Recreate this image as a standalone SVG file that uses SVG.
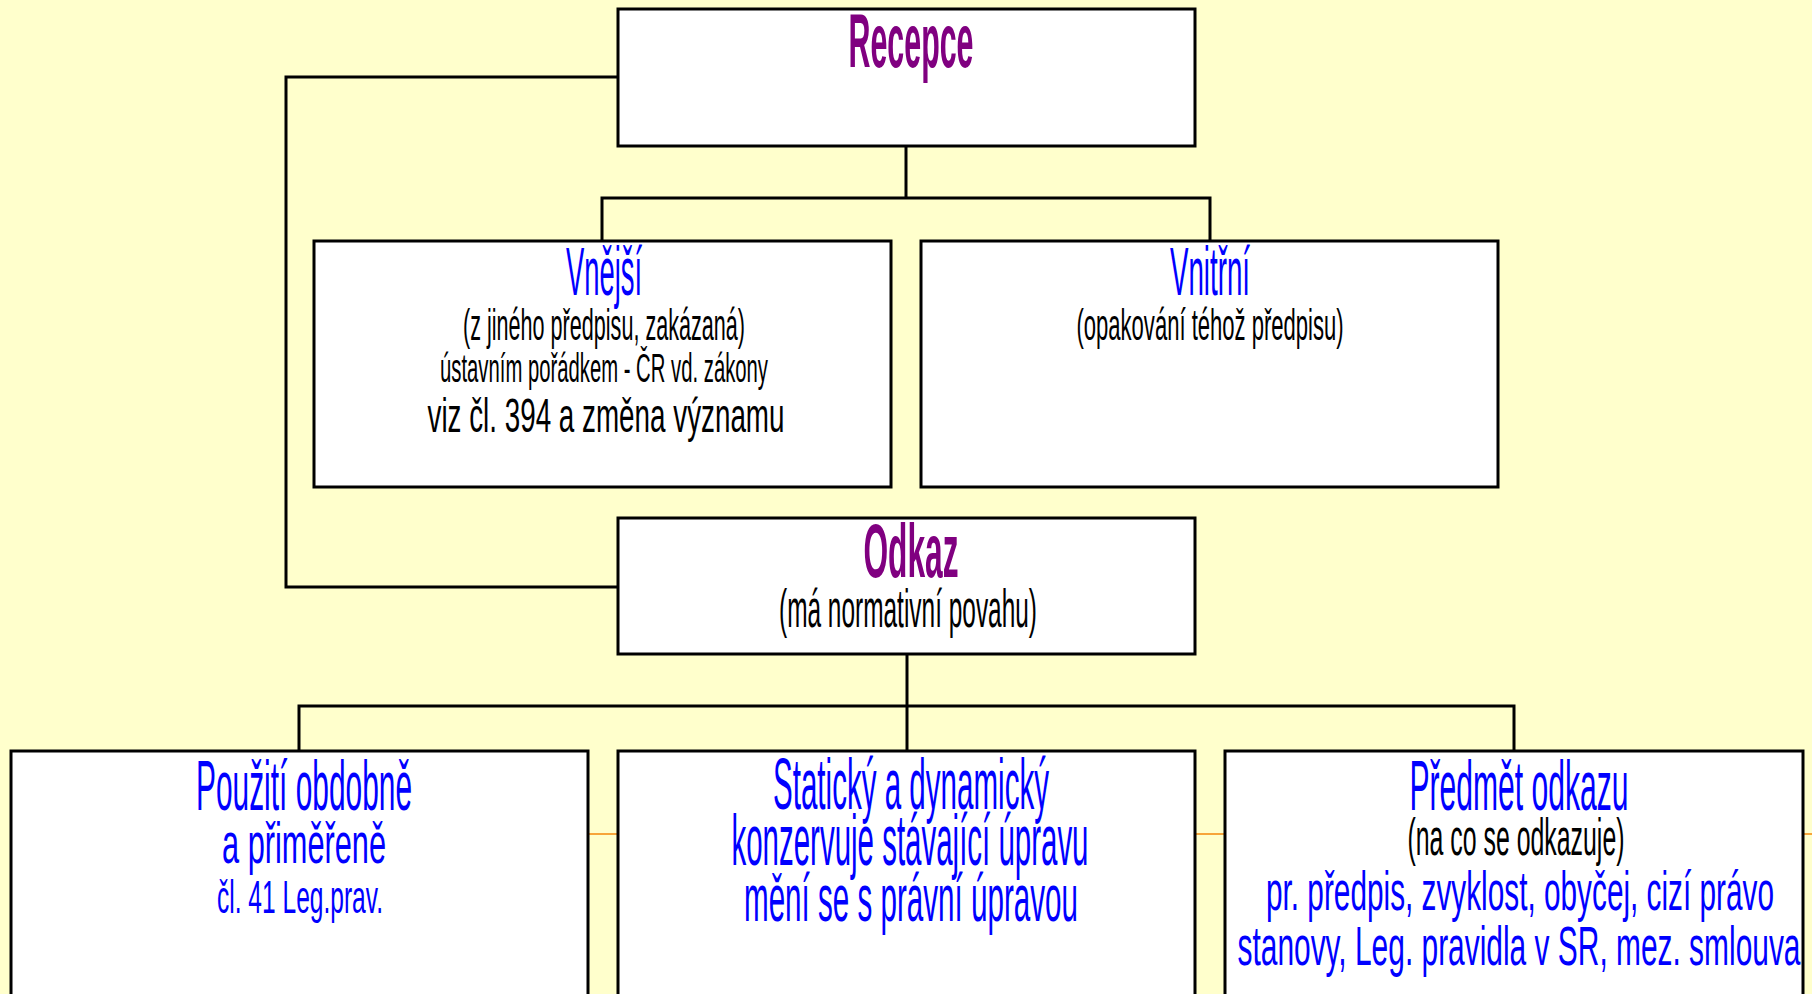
<svg xmlns="http://www.w3.org/2000/svg" width="1812" height="994" viewBox="0 0 1812 994">
<style>
.box{fill:#fff;stroke:#000;stroke-width:3}
.conn{fill:none;stroke:#000;stroke-width:3}
text{font-family:"Liberation Sans",Arial,sans-serif;text-anchor:middle}
.title{fill:#800080;font-weight:bold}
.blue{fill:#0000ff}
.black{fill:#000}
</style>
<rect x="0" y="0" width="1812" height="994" fill="#ffffcc"/>
<line x1="11" y1="834" x2="1812" y2="834" stroke="#f7a53a" stroke-width="2"/>
<g id="connectors">
<polyline class="conn" points="906,146 906,198"/>
<polyline class="conn" points="602,241 602,198 1210,198 1210,241"/>
<polyline class="conn" points="618,77 286,77 286,587 618,587"/>
<polyline class="conn" points="907,654 907,706"/>
<polyline class="conn" points="299,751 299,706 1514,706 1514,751"/>
<line class="conn" x1="907" y1="706" x2="907" y2="751"/>
</g>
<g id="recepce">
<rect class="box" x="618" y="9" width="577" height="137"/>
<text class="title" x="911" y="67" font-size="76" textLength="125" lengthAdjust="spacingAndGlyphs">Recepce</text>
</g>
<g id="vnejsi">
<rect class="box" x="314" y="241" width="577" height="246"/>
<text class="blue" x="604" y="295" font-size="68" textLength="76" lengthAdjust="spacingAndGlyphs">Vnější</text>
<text class="black" x="604" y="340" font-size="44" textLength="282" lengthAdjust="spacingAndGlyphs">(z jiného předpisu, zakázaná)</text>
<text class="black" x="604" y="382" font-size="40" textLength="328" lengthAdjust="spacingAndGlyphs">ústavním pořádkem - ČR vd. zákony</text>
<text class="black" x="606" y="432" font-size="48" textLength="357" lengthAdjust="spacingAndGlyphs">viz čl. 394 a změna významu</text>
</g>
<g id="vnitrni">
<rect class="box" x="921" y="241" width="577" height="246"/>
<text class="blue" x="1210" y="295" font-size="68" textLength="80" lengthAdjust="spacingAndGlyphs">Vnitřní</text>
<text class="black" x="1210" y="340" font-size="44" textLength="267" lengthAdjust="spacingAndGlyphs">(opakování téhož předpisu)</text>
</g>
<g id="odkaz">
<rect class="box" x="618" y="518" width="577" height="136"/>
<text class="title" x="911" y="577" font-size="76" textLength="95" lengthAdjust="spacingAndGlyphs">Odkaz</text>
<text class="black" x="908" y="627" font-size="54" textLength="258" lengthAdjust="spacingAndGlyphs">(má normativní povahu)</text>
</g>
<g id="pouziti">
<rect class="box" x="11" y="751" width="577" height="260"/>
<text class="blue" x="304" y="810" font-size="71" textLength="216" lengthAdjust="spacingAndGlyphs">Použití obdobně</text>
<text class="blue" x="304" y="863" font-size="58" textLength="164" lengthAdjust="spacingAndGlyphs">a přiměřeně</text>
<text class="blue" x="300" y="913" font-size="46" textLength="166" lengthAdjust="spacingAndGlyphs">čl. 41 Leg.prav.</text>
</g>
<g id="staticky">
<rect class="box" x="618" y="751" width="577" height="260"/>
<text class="blue" x="911" y="809" font-size="72" textLength="276" lengthAdjust="spacingAndGlyphs">Statický a dynamický</text>
<text class="blue" x="910" y="865" font-size="72" textLength="357" lengthAdjust="spacingAndGlyphs">konzervuje stávající úpravu</text>
<text class="blue" x="911" y="921" font-size="66" textLength="334" lengthAdjust="spacingAndGlyphs">mění se s právní úpravou</text>
</g>
<g id="predmet">
<rect class="box" x="1225" y="751" width="578" height="260"/>
<text class="blue" x="1519" y="810" font-size="70" textLength="219" lengthAdjust="spacingAndGlyphs">Předmět odkazu</text>
<text class="black" x="1516" y="855" font-size="52" textLength="217" lengthAdjust="spacingAndGlyphs">(na co se odkazuje)</text>
<text class="blue" x="1520" y="910" font-size="56" textLength="508" lengthAdjust="spacingAndGlyphs">pr. předpis, zvyklost, obyčej, cizí právo</text>
<text class="blue" x="1519" y="965" font-size="56" textLength="563" lengthAdjust="spacingAndGlyphs">stanovy, Leg. pravidla v SR, mez. smlouva</text>
</g>
</svg>
